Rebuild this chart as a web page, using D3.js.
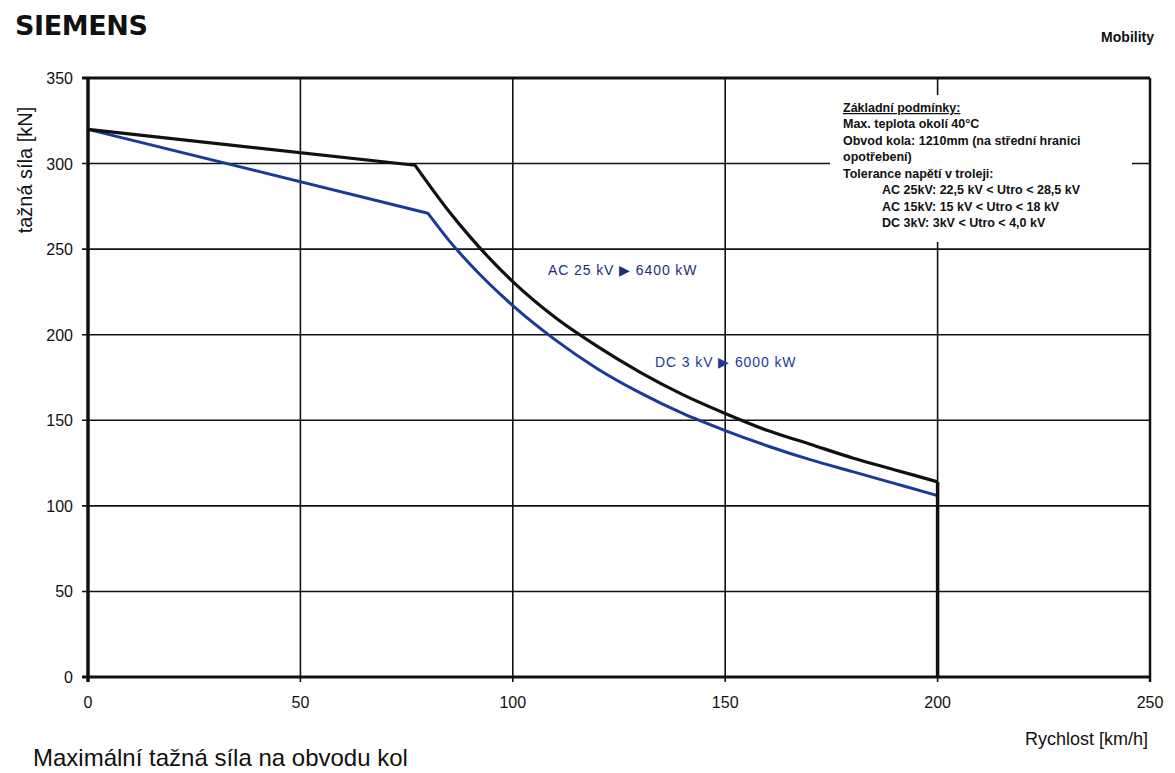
<!DOCTYPE html>
<html>
<head>
<meta charset="utf-8">
<script src="https://cdn.jsdelivr.net/npm/d3@7"></script>
<style>
  body { margin: 0; background: #fff; }
  text { font-family: "Liberation Sans", Arial, sans-serif; }
</style>
</head>
<body>
<div id="chart"></div>
<script>
//data: speed [km/h] / tractive force [kN]
//first two points = straight part, the rest = constant power hyperbola
var acSpeed = [0, 77, 85, 90, 100, 110, 120, 130, 140, 150, 160, 170, 180, 190, 200];
var acForce = [320, 299, 272, 257, 231, 210, 193, 178, 165, 154, 144, 136, 128, 121, 114];
var dcSpeed = [0, 80, 85, 90, 100, 110, 120, 130, 140, 150, 160, 170, 180, 190, 200];
var dcForce = [320, 271, 255, 241, 217, 197, 180, 166, 154, 144, 135, 127, 120, 113, 106];

var xTicks = [0, 50, 100, 150, 200, 250];
var yTicks = [0, 50, 100, 150, 200, 250, 300, 350];

var notes = [
  "Max. teplota okolí 40°C",
  "Obvod kola: 1210mm (na střední hranici",
  "opotřebení)",
  "Tolerance napětí v troleji:"
];
var tolerances = [
  "AC 25kV: 22,5 kV < Utro < 28,5 kV",
  "AC 15kV: 15 kV < Utro < 18 kV",
  "DC 3kV: 3kV < Utro < 4,0 kV"
];

var W = 1175, H = 773;
var margin = {left: 88, top: 78, right: 25, bottom: 96};

var svg = d3.select("#chart").append("svg")
  .attr("width", W)
  .attr("height", H);

var x = d3.scaleLinear()
  .domain([0, 250])
  .range([margin.left, W - margin.right]);
var y = d3.scaleLinear()
  .domain([0, 350])
  .range([H - margin.bottom, margin.top]);

//grid
svg.append("g")
  .selectAll("line")
  .data(yTicks)
  .enter()
  .append("line")
    .attr("x1", x(0) - 6)
    .attr("x2", x(250))
    .attr("y1", d => y(d))
    .attr("y2", d => y(d))
    .style("stroke", "#111")
    .style("stroke-width", d => (d == 0 || d == 350) ? 3 : 1.6);

svg.append("g")
  .selectAll("line")
  .data(xTicks)
  .enter()
  .append("line")
    .attr("x1", d => x(d))
    .attr("x2", d => x(d))
    .attr("y1", y(350))
    .attr("y2", y(0) + 5)
    .style("stroke", "#111")
    .style("stroke-width", d => (d == 0) ? 3.5 : (d == 250 ? 2.5 : 1.6));

//tick labels
svg.append("g")
  .selectAll("text")
  .data(yTicks)
  .enter()
  .append("text")
    .attr("x", x(0) - 15)
    .attr("y", d => y(d) + 6)
    .attr("text-anchor", "end")
    .style("font-size", "16px")
    .style("fill", "#111")
    .text(d => d);

svg.append("g")
  .selectAll("text")
  .data(xTicks)
  .enter()
  .append("text")
    .attr("x", d => x(d))
    .attr("y", y(0) + 31)
    .attr("text-anchor", "middle")
    .style("font-size", "16px")
    .style("fill", "#111")
    .text(d => d);

//legend box (white background hides the grid)
var box = svg.append("g").attr("transform", "translate(830,95)");
box.append("rect")
  .attr("width", 302)
  .attr("height", 147)
  .style("fill", "#fff");

box.append("text")
  .attr("x", 13)
  .attr("y", 17)
  .style("font-size", "12.5px")
  .style("font-weight", "bold")
  .style("text-decoration", "underline")
  .style("fill", "#111")
  .text("Základní podmínky:");

box.selectAll("text.note")
  .data(notes)
  .enter()
  .append("text")
    .attr("class", "note")
    .attr("x", 13)
    .attr("y", (d, i) => 33 + i * 16.5)
    .style("font-size", "12.5px")
    .style("font-weight", "bold")
    .style("fill", "#111")
    .text(d => d);

box.selectAll("text.tol")
  .data(tolerances)
  .enter()
  .append("text")
    .attr("class", "tol")
    .attr("x", 52)
    .attr("y", (d, i) => 99 + i * 16.5)
    .style("font-size", "12.5px")
    .style("font-weight", "bold")
    .style("fill", "#111")
    .text(d => d);

//curves: straight part + curved part
var straight = d3.line()
  .x(d => x(d[0]))
  .y(d => y(d[1]));
var curved = d3.line()
  .x(d => x(d[0]))
  .y(d => y(d[1]))
  .curve(d3.curveMonotoneX);

function drawCurve(speed, force, color, w) {
  var data = d3.zip(speed, force);
  svg.append("path")
    .attr("d", straight(data.slice(0, 2)) + curved(data.slice(1)).replace(/^M/, "L"))
    .style("fill", "none")
    .style("stroke", color)
    .style("stroke-width", w)
    .style("stroke-linejoin", "round");
}

drawCurve(dcSpeed, dcForce, "#1a3a9a", 3);
drawCurve(acSpeed, acForce, "#111", 3.2);

//speed limit line at 200 km/h
svg.append("line")
  .attr("x1", x(200))
  .attr("x2", x(200))
  .attr("y1", y(acForce[acForce.length - 1]))
  .attr("y2", y(0))
  .style("stroke", "#111")
  .style("stroke-width", 3.5);

//curve labels
svg.append("text")
  .attr("x", 548)
  .attr("y", 275)
  .style("font-size", "14px")
  .style("letter-spacing", "0.9px")
  .style("fill", "#1c2e78")
  .text("AC 25 kV ▶ 6400 kW");

svg.append("text")
  .attr("x", 655)
  .attr("y", 367)
  .style("font-size", "14px")
  .style("letter-spacing", "0.9px")
  .style("fill", "#1c3a9a")
  .text("DC 3 kV ▶ 6000 kW");

//titles
svg.append("text")
  .attr("x", 15)
  .attr("y", 35)
  .style("font-size", "27px")
  .style("font-weight", "900")
  .style("font-family", "'DejaVu Sans', sans-serif")
  .style("letter-spacing", "-0.4px")
  .style("fill", "#111")
  .text("SIEMENS");

svg.append("text")
  .attr("x", 1154)
  .attr("y", 42)
  .attr("text-anchor", "end")
  .style("font-size", "14px")
  .style("font-weight", "bold")
  .style("fill", "#111")
  .text("Mobility");

svg.append("text")
  .attr("transform", "translate(32,170) rotate(-90)")
  .attr("text-anchor", "middle")
  .style("font-size", "20px")
  .style("fill", "#111")
  .text("tažná síla [kN]");

svg.append("text")
  .attr("x", 1148)
  .attr("y", 745)
  .attr("text-anchor", "end")
  .style("font-size", "18px")
  .style("fill", "#111")
  .text("Rychlost [km/h]");

svg.append("text")
  .attr("x", 33)
  .attr("y", 766)
  .style("font-size", "24px")
  .style("fill", "#111")
  .text("Maximální tažná síla na obvodu kol");
</script>
</body>
</html>
